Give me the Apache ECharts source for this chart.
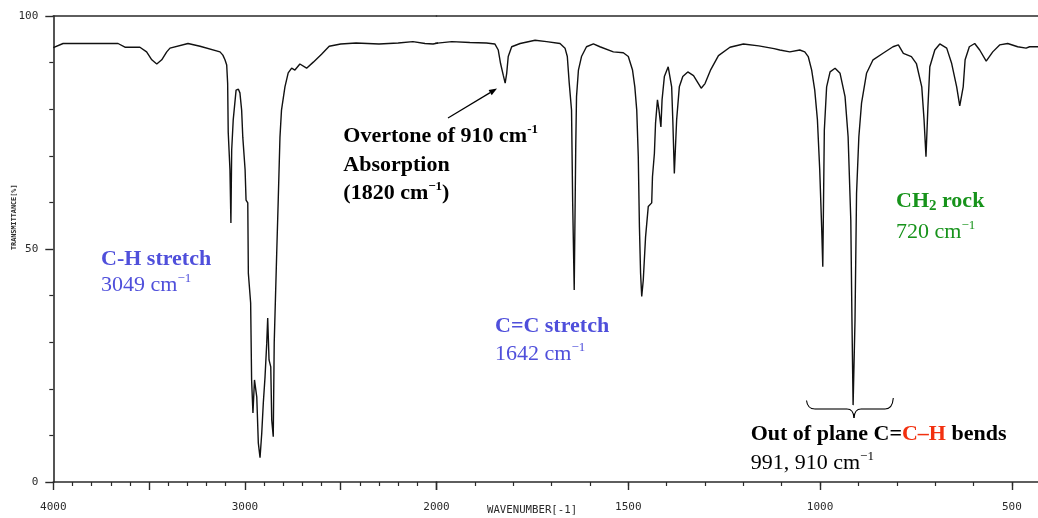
<!DOCTYPE html>
<html>
<head>
<meta charset="utf-8">
<script src="https://cdn.jsdelivr.net/npm/echarts@6/dist/echarts.min.js"></script>
<style>
  html, body { margin: 0; padding: 0; background: #fff; }
  #chart { width: 1038px; height: 518px; }
</style>
</head>
<body>
<div id="chart"></div>
<script>
// IR spectrum of a terminal alkene: wavenumber (cm-1) vs. transmittance (%)
const wavenumber = [
  4000, 3949, 3662, 3626, 3548, 3513, 3486, 3460, 3434, 3408, 3391, 3297, 3234, 3130, 3115, 3104,
  3095, 3090, 3087, 3078, 3073, 3069, 3061, 3046, 3034, 3026, 3017, 3011, 2999, 2994, 2985, 2982,
  2970, 2965, 2958, 2950, 2938, 2930, 2921, 2912, 2904, 2895, 2886, 2881, 2874, 2865, 2860, 2852,
  2847, 2834, 2826, 2817, 2809, 2791, 2774, 2756, 2739, 2713, 2678, 2643, 2600, 2560, 2500, 2420,
  2300, 2200, 2123, 2060, 2018, 1960, 1913, 1870, 1848, 1839, 1833, 1826, 1821, 1817, 1813, 1804,
  1782, 1743, 1713, 1678, 1665, 1659, 1654, 1648, 1645, 1641, 1637, 1635, 1630, 1622, 1609, 1591,
  1574, 1539, 1513, 1500, 1489, 1483, 1478, 1474, 1471, 1468, 1465, 1461, 1455, 1448, 1439, 1437,
  1432, 1429, 1424, 1420, 1415, 1412, 1406, 1396, 1387, 1384, 1380, 1374, 1367, 1358, 1345, 1330,
  1310, 1300, 1285, 1265, 1235, 1200, 1160, 1120, 1105, 1079, 1053, 1040, 1031, 1022, 1014, 1007,
  1001, 996, 993, 989, 983, 974, 961, 948, 935, 927, 920, 917, 914, 909, 905, 899,
  892, 879, 862, 836, 810, 796, 783, 762, 749, 735, 729, 724, 719, 714, 701, 688,
  670, 657, 644, 636, 627, 622, 611, 597, 584, 567, 550, 532, 511, 485, 463, 454,
  432
];
const transmittance = [
  93.2, 94.1, 94.1, 93.3, 93.3, 92.3, 90.6, 89.7, 90.6, 92.3, 93.1, 94.1, 93.5, 92.3, 91.6, 90.6,
  89.5, 85.5, 75.0, 67.0, 55.6, 71.2, 77.7, 84.1, 84.3, 83.5, 79.8, 74.0, 67.0, 60.5, 59.9, 44.8,
  38.4, 21.9, 14.8, 21.9, 18.2, 8.4, 5.2, 10.5, 16.9, 22.5, 29.8, 35.2, 26.2, 24.7, 13.3, 9.7,
  29.8, 49.1, 60.5, 74.0, 79.8, 84.8, 87.8, 88.8, 88.4, 89.7, 88.8, 90.1, 91.8, 93.5, 94.0, 94.2,
  94.0, 94.2, 94.5, 94.1, 94.0, 94.5, 94.3, 94.2, 94.0, 92.7, 89.8, 87.3, 85.6, 87.7, 91.3, 93.4,
  94.1, 94.8, 94.5, 94.1, 93.1, 91.3, 85.6, 79.8, 59.9, 41.2, 72.0, 82.7, 88.4, 91.3, 93.4, 94.0,
  93.4, 92.3, 92.1, 91.3, 88.4, 84.8, 79.8, 69.8, 54.8, 44.8, 39.8, 43.3, 52.6, 59.1, 59.9, 65.5,
  70.5, 77.0, 82.0, 79.8, 76.2, 82.0, 87.0, 89.1, 84.8, 77.7, 66.2, 77.7, 84.8, 87.0, 88.0, 87.2,
  84.5, 85.5, 88.5, 91.5, 93.3, 94.0, 93.6, 93.0, 92.7, 92.3, 92.7, 92.3, 91.3, 88.4, 84.1, 77.7,
  67.0, 54.8, 46.2, 75.5, 84.8, 88.0, 88.8, 87.7, 82.7, 74.1, 56.2, 34.8, 16.5, 34.8, 61.9, 74.1,
  81.3, 87.7, 90.6, 92.0, 93.4, 93.8, 92.0, 91.3, 89.8, 84.8, 77.7, 69.8, 80.4, 89.1, 92.7, 94.0,
  93.1, 89.8, 84.8, 80.7, 84.8, 90.6, 93.4, 94.1, 92.7, 90.3, 92.3, 93.8, 94.1, 93.4, 93.1, 93.4,
  93.4
];

// The wavenumber scale doubles its spread below 2000 cm-1, so the plot is two panels side by side
const splitWavenumber = 2000;
const leftRange = [2000, 4000];
const rightRange = [432, 2000];
const leftTickLabels = [4000, 3000, 2000];
const rightTickLabels = [1500, 1000, 500];
const rightMajorTicks = [500, 1000, 1500, 2000];
const rightMinorTicks = [500, 600, 700, 800, 900, 1000, 1100, 1200, 1300, 1400, 1500, 1600, 1700, 1800, 1900];
const yTickLabels = [0, 50, 100];

const points = wavenumber.map((w, i) => [w, transmittance[i]]);
const firstBelow = points.findIndex(p => p[0] < splitWavenumber);
const leftPoints = points.slice(0, firstBelow + 1);
const rightPoints = points.slice(firstBelow - 1);

const ink = '#2a2a2a';
const mono = '"DejaVu Sans Mono", "Liberation Mono", monospace';
const serif = '"Liberation Serif", "Times New Roman", serif';
const blue = '#4f4fdb';
const green = '#17931b';
const red = '#f2300f';

const axisLineStyle = { color: ink, width: 1.6 };
const labelStyle = { fontFamily: mono, fontSize: 11, color: ink, formatter: v => String(v) };

function baseX(gridIndex, range) {
  return {
    type: 'value', gridIndex, min: range[0], max: range[1], inverse: true,
    position: 'bottom', splitLine: { show: false },
    axisLine: { show: true, onZero: false, lineStyle: axisLineStyle },
    axisTick: { show: false }, axisLabel: { show: false }
  };
}

function richFor(color) {
  return {
    b:   { fontFamily: serif, fontWeight: 'bold', fontSize: 22, lineHeight: 26, fill: color },
    n:   { fontFamily: serif, fontSize: 22, lineHeight: 26, fill: color },
    sup: { fontFamily: serif, fontSize: 13, lineHeight: 20, verticalAlign: 'top', fill: color },
    supb:{ fontFamily: serif, fontWeight: 'bold', fontSize: 13, lineHeight: 20, verticalAlign: 'top', fill: color },
    sub: { fontFamily: serif, fontWeight: 'bold', fontSize: 15, lineHeight: 15, verticalAlign: 'bottom', fill: color },
    r:   { fontFamily: serif, fontWeight: 'bold', fontSize: 22, lineHeight: 26, fill: red }
  };
}

function note(x, y, text, color) {
  return {
    type: 'text', x, y, silent: true,
    style: { text, rich: richFor(color), align: 'left', verticalAlign: 'top' }
  };
}

// arrow pointing at the 1820 cm-1 overtone
const arrowFrom = [448, 118];
const arrowTo = [497, 88.5];
const ang = Math.atan2(arrowTo[1] - arrowFrom[1], arrowTo[0] - arrowFrom[0]);
const headLen = 8, headHalf = 3;
const hx = arrowTo[0] - headLen * Math.cos(ang), hy = arrowTo[1] - headLen * Math.sin(ang);
const arrowHead = [
  arrowTo,
  [hx + headHalf * Math.sin(ang), hy - headHalf * Math.cos(ang)],
  [hx - headHalf * Math.sin(ang), hy + headHalf * Math.cos(ang)]
];

// curly brace grouping the 991 and 910 cm-1 bends
const braceStroke = { fill: 'none', stroke: '#000', lineWidth: 1.1 };
function braceCurve(x1, y1, cpx1, cpy1, x2, y2) {
  return { type: 'bezierCurve', silent: true, shape: { x1, y1, cpx1, cpy1, x2, y2 }, style: braceStroke };
}
function braceLine(x1, y1, x2, y2) {
  return { type: 'line', silent: true, shape: { x1, y1, x2, y2 }, style: braceStroke };
}
const brace = [
  braceCurve(806.5, 400.5, 807.5, 409, 815, 409),
  braceLine(815, 409, 847, 409),
  braceCurve(847, 409, 853.5, 409, 854, 418),
  braceCurve(854, 418, 854.5, 409, 861, 409),
  braceLine(861, 409, 885, 409),
  braceCurve(885, 409, 892.5, 409, 893.3, 398)
];

const chart = echarts.init(document.getElementById('chart'), null, { renderer: 'canvas' });

chart.setOption({
  animation: false,
  backgroundColor: '#fff',
  grid: [
    { left: 53.3, top: 16, width: 383.2, height: 466 },
    { left: 436.5, top: 16, right: 0, height: 466 }
  ],
  xAxis: [
    Object.assign(baseX(0, leftRange), {
      interval: 500,
      axisTick: { show: true, length: 8, lineStyle: { color: ink, width: 1.4 } },
      minorTick: { show: true, splitNumber: 5, length: 4, lineStyle: { color: ink, width: 1.2 } },
      axisLabel: Object.assign({ show: true, margin: 20, customValues: leftTickLabels }, labelStyle)
    }),
    Object.assign(baseX(1, rightRange), {
      axisTick: { show: true, length: 4, customValues: rightMinorTicks, lineStyle: { color: ink, width: 1.2 } }
    }),
    Object.assign(baseX(1, rightRange), {
      axisLine: { show: false },
      axisTick: { show: true, length: 8, customValues: rightMajorTicks, lineStyle: { color: ink, width: 1.4 } },
      axisLabel: Object.assign({ show: true, margin: 20, customValues: rightTickLabels }, labelStyle)
    }),
    Object.assign(baseX(0, leftRange), { position: 'top' }),
    Object.assign(baseX(1, rightRange), { position: 'top' })
  ],
  yAxis: [
    {
      type: 'value', gridIndex: 0, min: 0, max: 100, interval: 50,
      splitLine: { show: false },
      axisLine: { show: true, lineStyle: axisLineStyle },
      axisTick: { show: true, length: 8, lineStyle: { color: ink, width: 1.4 } },
      minorTick: { show: true, splitNumber: 5, length: 4, lineStyle: { color: ink, width: 1.2 } },
      axisLabel: Object.assign({ margin: 15, customValues: yTickLabels }, labelStyle)
    },
    { type: 'value', gridIndex: 1, min: 0, max: 100, show: false }
  ],
  series: [
    {
      type: 'line', xAxisIndex: 0, yAxisIndex: 0, data: leftPoints,
      symbol: 'none', clip: true, lineStyle: { color: '#111', width: 1.4 }
    },
    {
      type: 'line', xAxisIndex: 1, yAxisIndex: 1, data: rightPoints,
      symbol: 'none', clip: true, lineStyle: { color: '#111', width: 1.4 }
    }
  ],
  graphic: [
    { type: 'text', x: 487, y: 505, silent: true,
      style: { text: 'WAVENUMBER[-1]', font: '10.7px ' + mono, fill: ink } },
    { type: 'text', x: 10.5, y: 250, rotation: Math.PI / 2, silent: true,
      style: { text: 'TRANSMITTANCE[%]', font: 'bold 6.8px ' + mono, fill: ink, align: 'left', verticalAlign: 'top' } },

    note(101, 246.5, '{b|C-H stretch}', blue),
    note(101, 272.5, '{n|3049 cm}{sup|\u22121}', blue),

    note(343.3, 123.5, '{b|Overtone of 910 cm}{supb|-1}', '#000'),
    note(343.3, 152, '{b|Absorption}', '#000'),
    note(343.3, 180, '{b|(1820 cm}{supb|\u22121}{b|)}', '#000'),

    note(495, 313, '{b|C=C stretch}', blue),
    note(495, 341, '{n|1642 cm}{sup|\u22121}', blue),

    note(896, 188, '{b|CH}{sub|2}{b| rock}', green),
    note(896, 219.5, '{n|720 cm}{sup|\u22121}', green),

    note(750.7, 421, '{b|Out of plane C=}{r|C\u2013H}{b| bends}', '#000'),
    note(750.7, 450, '{n|991, 910 cm}{sup|\u22121}', '#000'),

    { type: 'line', silent: true,
      shape: { x1: arrowFrom[0], y1: arrowFrom[1], x2: hx, y2: hy },
      style: { stroke: '#000', lineWidth: 1.2 } },
    { type: 'polygon', silent: true, shape: { points: arrowHead }, style: { fill: '#000' } }
  ].concat(brace)
});
</script>
</body>
</html>
